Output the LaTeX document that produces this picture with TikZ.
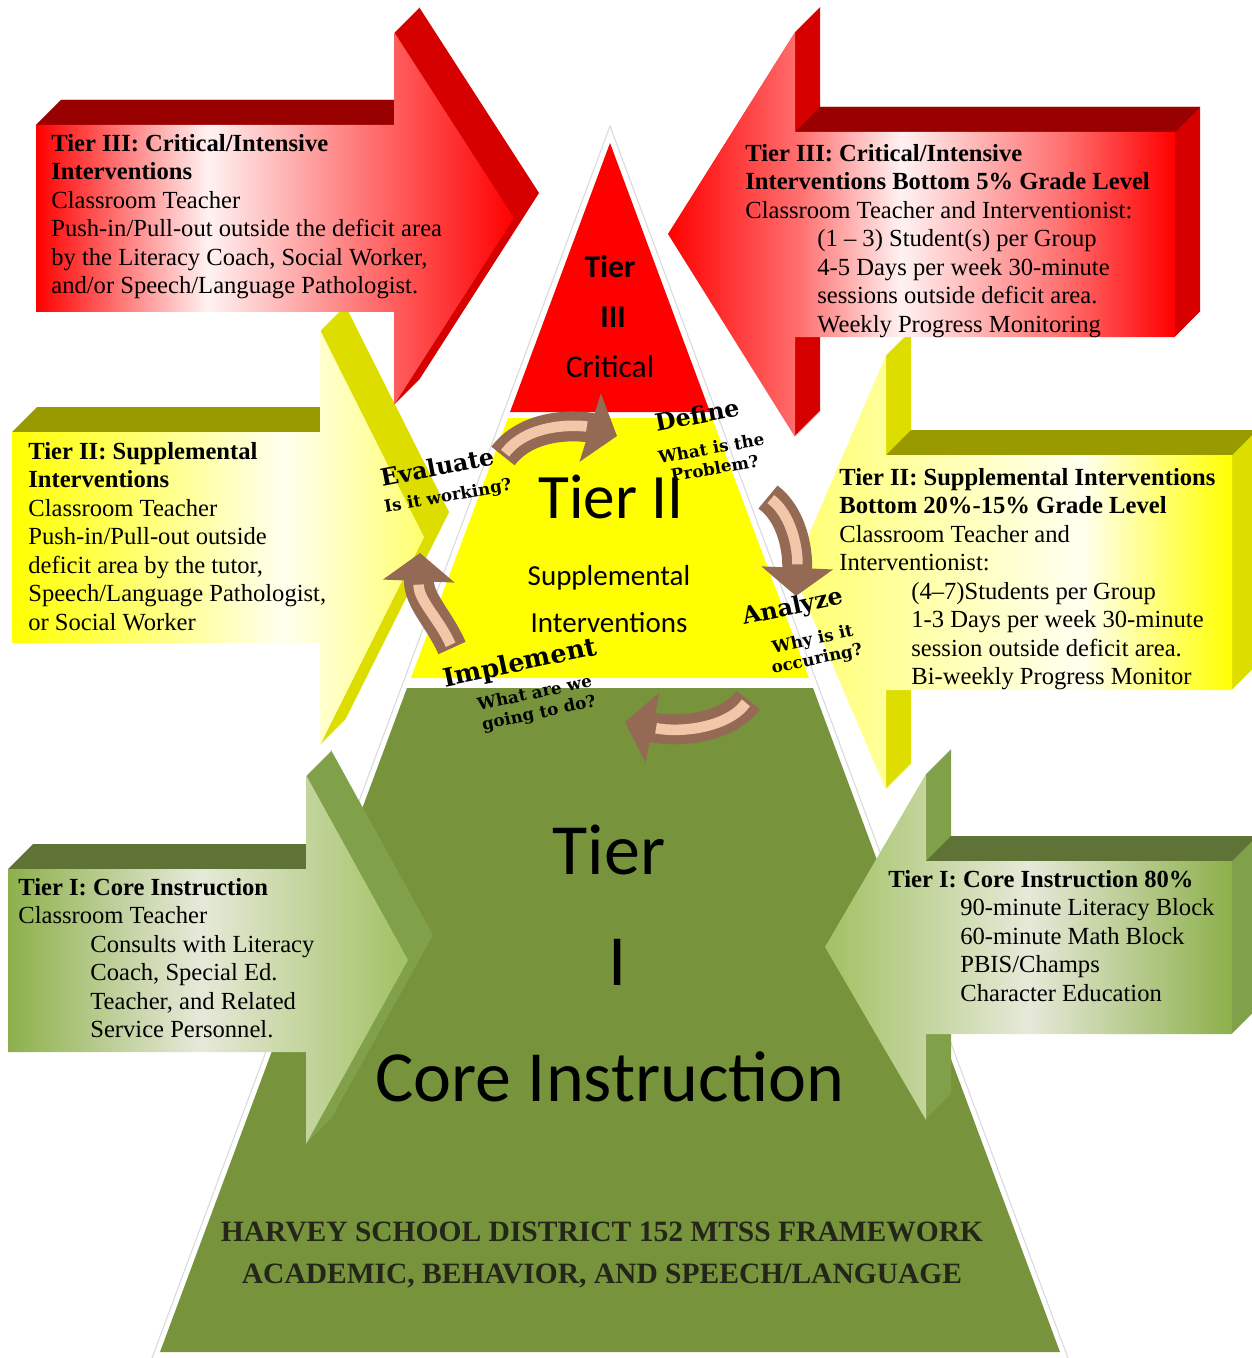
\documentclass[tikz,border=0pt]{standalone}
\usepackage{fontspec}
\setmainfont{Liberation Serif}
\newfontfamily\calibri{Carlito}
\newfontfamily\heavyfont{DejaVu Serif}
\usetikzlibrary{arrows.meta}

\definecolor{tierred}{HTML}{FF0000}
\definecolor{tieryellow}{HTML}{FFFF00}
\definecolor{tiergreen}{HTML}{77933C}
\definecolor{redside}{HTML}{D70000}
\definecolor{redtop}{HTML}{990000}
\definecolor{yellowside}{HTML}{DDDD00}
\definecolor{yellowtop}{HTML}{999900}
\definecolor{greenside}{HTML}{80A04A}
\definecolor{greentop}{HTML}{5F7337}
\definecolor{arrowbrown}{HTML}{946A55}
\definecolor{arrowpeach}{HTML}{F2C6A8}
\definecolor{redpink}{HTML}{FF7070}
\definecolor{redpale}{HTML}{FFF2F2}
\definecolor{yellowpale}{HTML}{FFFFF0}
\definecolor{yellowlight}{HTML}{FFFF70}
\definecolor{greenA}{HTML}{8DB04B}
\definecolor{greenB}{HTML}{A2C163}
\definecolor{greenpale}{HTML}{E6E9D9}
\definecolor{titleink}{HTML}{24261A}

\pgfdeclarehorizontalshading{glowRL}{100bp}{color(0bp)=(tierred); color(25bp)=(tierred); color(43bp)=(redpale); color(60bp)=(redpink); color(75bp)=(tierred); color(100bp)=(tierred)}
\pgfdeclarehorizontalshading{glowRR}{100bp}{color(0bp)=(tierred); color(25bp)=(tierred); color(38bp)=(redpink); color(48bp)=(redpale); color(64bp)=(redpink); color(75bp)=(tierred); color(100bp)=(tierred)}
\pgfdeclarehorizontalshading{glowYL}{100bp}{color(0bp)=(tieryellow); color(25bp)=(tieryellow); color(58bp)=(yellowpale); color(75bp)=(yellowlight); color(100bp)=(yellowlight)}
\pgfdeclarehorizontalshading{glowYR}{100bp}{color(0bp)=(yellowlight); color(25bp)=(yellowlight); color(58bp)=(yellowpale); color(75bp)=(tieryellow); color(100bp)=(tieryellow)}
\pgfdeclarehorizontalshading{glowGL}{100bp}{color(0bp)=(greenA); color(25bp)=(greenA); color(49bp)=(greenpale); color(75bp)=(greenB); color(100bp)=(greenB)}
\pgfdeclarehorizontalshading{glowGR}{100bp}{color(0bp)=(greenB); color(25bp)=(greenB); color(50bp)=(greenpale); color(75bp)=(greenA); color(100bp)=(greenA)}

\newcommand{\blockarrow}[5]{%
  \foreach \s in {1,...,25} \fill[#2, shift={(\s,-\s)}] #1;
  \fill[#4] #3;
  \shade[shading=#5] #1;
}

\begin{document}
\begin{tikzpicture}[x=0.02cm, y=-0.02cm]
	\tikzstyle{boxtext} = [anchor=north west, align=left, inner sep=0pt, font=\fontsize{14}{16.2}\selectfont]
	\tikzstyle{stagelbl} = [inner sep=0pt, font=\heavyfont\bfseries\fontsize{13.5}{14}\selectfont]
	\tikzstyle{stageq} = [inner sep=0pt, align=center, font=\heavyfont\bfseries\fontsize{9.5}{11.5}\selectfont]
	\tikzstyle{bottomline} = [inner sep=0pt, text=titleink, font=\bfseries\fontsize{16.8}{19}\selectfont]
	\tikzstyle{cyclearrow} = [line width=17pt, draw=arrowbrown, -{Triangle[width=40pt,length=16pt]}, postaction={draw=arrowpeach, line width=6pt, -, shorten >=18pt, shorten <=2pt}]
	\tikzset{tierlbl/.style={inner sep=0pt, font=\calibri\fontsize{#1}{#1}\selectfont},
		tierbold/.style={inner sep=0pt, font=\calibri\bfseries\fontsize{#1}{#1}\selectfont}}

	\useasboundingbox (0,0) rectangle (1251,1358);

	\fill[tiergreen] (407,688) -- (813,688) -- (1060,1352) -- (160,1352) -- cycle;
	\fill[tieryellow] (508,418) -- (712,418) -- (809,678) -- (411,678) -- cycle;
	\fill[tierred] (610,143) -- (710,412) -- (510,412) -- cycle;
	\draw[gray!30, line width=0.6pt] (152,1358) -- (610,126) -- (1068,1358);

	\blockarrow{(8,869) -- (306,869) -- (306,775) -- (408,960) -- (306,1144) -- (306,1052) -- (8,1052) -- cycle}{greenside}{(8,869) -- (306,869) -- (331,844) -- (33,844) -- cycle}{greentop}{glowGL}
	\blockarrow{(1232,861) -- (926,861) -- (926,774) -- (825,947) -- (926,1120) -- (926,1034) -- (1232,1034) -- cycle}{greenside}{(926,861) -- (1232,861) -- (1257,836) -- (951,836) -- cycle}{greentop}{glowGR}
	\blockarrow{(12,432) -- (320,432) -- (320,330) -- (424,537) -- (320,745) -- (320,643) -- (12,643) -- cycle}{yellowside}{(12,432) -- (320,432) -- (345,407) -- (37,407) -- cycle}{yellowtop}{glowYL}
	\blockarrow{(1232,455) -- (886,455) -- (886,355) -- (793,572) -- (886,790) -- (886,690) -- (1232,690) -- cycle}{yellowside}{(886,455) -- (1232,455) -- (1257,430) -- (911,430) -- cycle}{yellowtop}{glowYR}
	\blockarrow{(36,125) -- (394,125) -- (394,32) -- (514,218) -- (394,405) -- (394,312) -- (36,312) -- cycle}{redside}{(36,125) -- (394,125) -- (419,100) -- (61,100) -- cycle}{redtop}{glowRL}
	\blockarrow{(1175,132) -- (795,132) -- (795,32) -- (668,234) -- (795,437) -- (795,337) -- (1175,337) -- cycle}{redside}{(795,132) -- (1175,132) -- (1200,107) -- (820,107) -- cycle}{redtop}{glowRR}

	\node[boxtext] (t3left) at (51,134) {\textbf{Tier III: Critical/Intensive}\\ \textbf{Interventions}\\ Classroom Teacher\\ Push-in/Pull-out outside the deficit area\\ by the Literacy Coach, Social Worker,\\ and/or Speech/Language Pathologist.};
	\node[boxtext] (t3right) at (745,144) {\textbf{Tier III: Critical/Intensive}\\ \textbf{Interventions Bottom 5\% Grade Level}\\ Classroom Teacher and Interventionist:\\ \hspace*{41pt}(1 – 3) Student(s) per Group\\ \hspace*{41pt}4-5 Days per week 30-minute\\ \hspace*{41pt}sessions outside deficit area.\\ \hspace*{41pt}Weekly Progress Monitoring};
	\node[boxtext] (t2left) at (28,442) {\textbf{Tier II: Supplemental}\\ \textbf{Interventions}\\ Classroom Teacher\\ Push-in/Pull-out outside\\ deficit area by the tutor,\\ Speech/Language Pathologist,\\ or Social Worker};
	\node[boxtext] (t2right) at (839,468) {\textbf{Tier II: Supplemental Interventions}\\ \textbf{Bottom 20\%-15\% Grade Level}\\ Classroom Teacher and\\ Interventionist:\\ \hspace*{41pt}(4–7)Students per Group\\ \hspace*{41pt}1-3 Days per week 30-minute\\ \hspace*{41pt}session outside deficit area.\\ \hspace*{41pt}Bi-weekly Progress Monitor};
	\node[boxtext] (t1left) at (18,878) {\textbf{Tier I: Core Instruction}\\ Classroom Teacher\\ \hspace*{41pt}Consults with Literacy\\ \hspace*{41pt}Coach, Special Ed.\\ \hspace*{41pt}Teacher, and Related\\ \hspace*{41pt}Service Personnel.};
	\node[boxtext] (t1right) at (888,870) {\textbf{Tier I: Core Instruction 80\%}\\ \hspace*{41pt}90-minute Literacy Block\\ \hspace*{41pt}60-minute Math Block\\ \hspace*{41pt}PBIS/Champs\\ \hspace*{41pt}Character Education};

	\node[tierbold=18] (tier3a) at (610,267) {Tier};
	\node[tierbold=18] (tier3b) at (613,317) {III};
	\node[tierlbl=18] (tier3c) at (610,367) {Critical};
	\node[tierlbl=36] (tier2a) at (611,497) {Tier II};
	\node[tierlbl=16.5] (tier2b) at (609,578) {Supplemental};
	\node[tierlbl=16.5] (tier2c) at (609,623) {Interventions};
	\node[tierlbl=41] (tier1a) at (609,850) {Tier};
	\node[tierlbl=41] (tier1b) at (618,962) {I};
	\node[tierlbl=41] (tier1c) at (610,1077) {Core Instruction};

	\node[bottomline] (district) at (602,1232) {HARVEY SCHOOL DISTRICT 152 MTSS FRAMEWORK};
	\node[bottomline] (scope) at (602,1276) {ACADEMIC, BEHAVIOR, AND SPEECH/LANGUAGE};

	\coordinate (c1s) at (503,456); \coordinate (c1e) at (617,436);
	\coordinate (c2s) at (768,497); \coordinate (c2e) at (796,596);
	\coordinate (c3s) at (748,700); \coordinate (c3e) at (625,722);
	\coordinate (c4s) at (452,648); \coordinate (c4e) at (420,553);
	\draw[cyclearrow] (c1s) .. controls (530,420) and (585,426) .. (c1e);
	\draw[cyclearrow] (c2s) .. controls (792,515) and (798,550) .. (c2e);
	\draw[cyclearrow] (c3s) .. controls (728,728) and (680,733) .. (c3e);
	\draw[cyclearrow] (c4s) .. controls (440,620) and (418,600) .. (c4e);

	\node[stagelbl, rotate=11] (evaluate) at (437,467) {Evaluate};
	\node[stageq, rotate=10] (evaluateq) at (448,497) {Is it working?};
	\node[stagelbl, rotate=11] (define) at (697,415) {Define};
	\node[stageq, rotate=10] (defineq) at (713,458) {What is the\\Problem?};
	\node[stagelbl, rotate=12] (analyze) at (793,608) {Analyze};
	\node[stageq, rotate=12] (analyzeq) at (815,650) {Why is it\\occuring?};
	\node[stagelbl, rotate=12, font=\heavyfont\bfseries\fontsize{14.5}{15}\selectfont] (implement) at (520,664) {Implement};
	\node[stageq, rotate=12] (implementq) at (537,704) {What are we\\going to do?};
\end{tikzpicture}
\end{document}
